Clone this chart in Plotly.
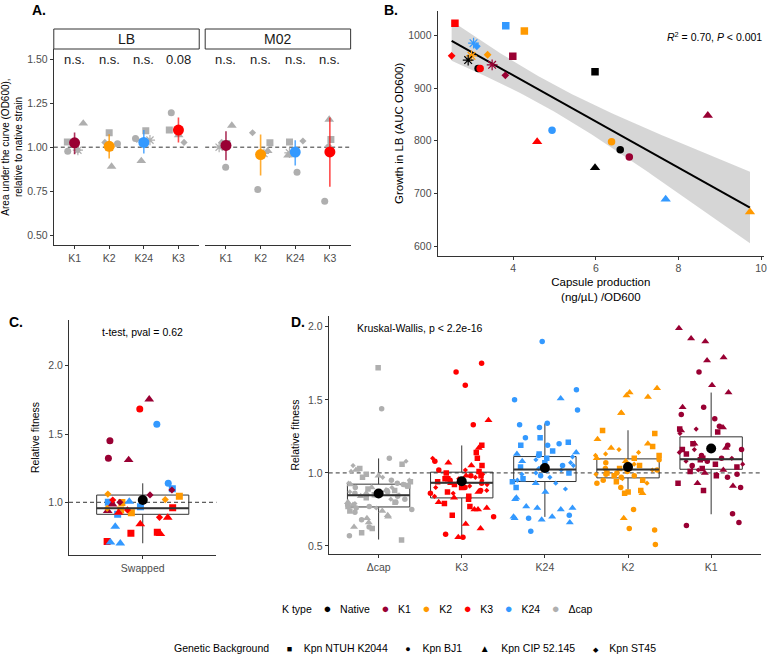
import numpy as np
import plotly.graph_objects as go

FONT = "Liberation Sans, Arial, Helvetica, sans-serif"
W, H = 772, 658

# ---------------- colours / symbols ----------------
K_COLORS = {"Native": "#000000", "K1": "#990033", "K2": "#FF9900",
            "K3": "#FF0000", "K24": "#3399FF", "Δcap": "#AFAFAF"}
K_ALPHA = {"K1": "rgba(153,0,51,0.8)", "K2": "rgba(255,153,0,0.8)",
           "K3": "rgba(255,0,0,0.7)", "K24": "rgba(51,153,255,0.8)"}
GRAY = "#AFAFAF"
BG_SYMBOL = {"NTUH": "square", "BJ1": "circle", "CIP": "triangle-up",
             "ST45": "diamond", "other": "asterisk-open"}
BG_GLYPH = {"NTUH": ("■", 9), "BJ1": ("●", 9), "CIP": ("▲", 10), "ST45": ("◆", 7)}

# ---------------- Panel A data ----------------
a_ktypes = ["K1", "K2", "K24", "K3"]
a_lb_mean = [1.025, 1.005, 1.027, 1.097]
a_lb_hi = [1.083, 1.074, 1.097, 1.169]
a_lb_lo = [0.960, 0.936, 0.964, 1.026]
a_m02_mean = [1.010, 0.958, 0.972, 0.973]
a_m02_hi = [1.091, 1.072, 1.040, 1.169]
a_m02_lo = [0.926, 0.839, 0.896, 0.775]
a_lb_labels = ["n.s.", "n.s.", "n.s.", "0.08"]
a_m02_labels = ["n.s.", "n.s.", "n.s.", "n.s."]
a_lb_ntuh = [1.030, 1.082, 1.093, 1.097]
a_lb_bj1 = [0.977, 1.020, 1.049, 1.195]
a_lb_cip = [1.135, 0.890, 0.922, 1.068]
a_lb_st45 = [0.983, 1.027, 1.044, 1.027]
a_lb_other = [0.983, 1.000, 1.040, None]
a_m02_ntuh = [1.021, 1.025, 1.030, 1.044]
a_m02_bj1 = [0.886, 0.760, 0.858, 0.693]
a_m02_cip = [1.123, 0.979, 0.953, 1.157]
a_m02_st45 = [1.027, 1.082, 1.035, 1.006]
a_m02_other = [1.000, 0.964, 0.968, None]

# ---------------- Panel B data ----------------
b_capsule = [2.59, 3.82, 4.27, 3.99, 5.98, 2.51, 3.04, 3.12, 2.99, 3.38, 2.91, 3.15,
             3.20, 3.49, 3.81, 4.94, 4.58, 6.38, 6.59, 6.81, 5.98, 8.71, 7.69, 9.73]
b_growth = [1023, 1018, 1008, 960, 931, 961, 985, 979, 961, 963, 953, 937,
            937, 944, 924, 820, 798, 798, 783, 769, 749, 848, 689, 665]
b_ktype = ["K3", "K24", "K2", "K1", "Native", "K3", "K24", "K24", "K2", "K2", "Native", "Native",
           "K3", "K1", "K1", "K24", "K3", "K2", "Native", "K1", "Native", "K1", "K24", "K2"]
b_background = ["NTUH", "NTUH", "NTUH", "NTUH", "NTUH", "ST45", "other", "ST45", "other", "ST45", "other", "BJ1",
                "BJ1", "other", "ST45", "BJ1", "CIP", "BJ1", "BJ1", "BJ1", "CIP", "CIP", "CIP", "CIP"]

# ---------------- Panel C data ----------------
c_values = [1.754, 1.683, 1.571, 1.451, 1.322, 1.310, 1.139, 1.100, 1.054, 1.090, 1.060, 1.020,
            0.998, 1.000, 1.000, 1.017, 1.005, 0.985, 0.924, 0.944, 0.924, 0.968, 0.937, 0.956,
            0.944, 0.960, 0.888, 0.890, 0.841, 0.822, 0.780, 0.773, 0.768, 0.712, 0.700, 0.707,
            0.912, 1.045]
c_ktype = ["K1", "K3", "K24", "K1", "K1", "K1", "K24", "K24", "K1", "K1", "K2", "K2",
           "K2", "K24", "K1", "K3", "K24", "K1", "K3", "K2", "K2", "K24", "K1", "K2",
           "K3", "K3", "K3", "K3", "K3", "K24", "K3", "K3", "K3", "K3", "K24", "K24",
           "K24", "K2"]
c_background = ["CIP", "BJ1", "BJ1", "BJ1", "BJ1", "CIP", "BJ1", "NTUH", "ST45", "ST45", "ST45", "ST45",
                "NTUH", "NTUH", "ST45", "ST45", "CIP", "CIP", "CIP", "NTUH", "NTUH", "NTUH", "CIP", "ST45",
                "ST45", "NTUH", "CIP", "ST45", "CIP", "CIP", "NTUH", "NTUH", "CIP", "NTUH", "CIP", "CIP",
                "NTUH", "NTUH"]
c_category = ["Swapped"]
c_q1 = [0.912]
c_median = [0.956]
c_q3 = [1.053]
c_low = [0.700]
c_high = [1.139]
c_mean = [1.017]

# ---------------- Panel D data ----------------
d_groups = ["Δcap", "K3", "K24", "K2", "K1"]
d_q1 = [0.767, 0.829, 0.941, 0.966, 1.025]
d_median = [0.847, 0.932, 1.023, 1.023, 1.094]
d_q3 = [0.923, 1.005, 1.112, 1.096, 1.247]
d_low = [0.544, 0.562, 0.699, 0.886, 0.717]
d_high = [1.099, 1.188, 1.338, 1.292, 1.550]
d_mean = [0.859, 0.943, 1.034, 1.041, 1.167]

d_dcap_ntuh = [1.72, 1.06, 1.03, 0.99, 0.97, 0.94, 0.91, 0.89, 0.85, 0.83, 0.80, 0.77, 0.74, 0.62, 0.59, 0.54, 0.88]
d_dcap_bj1 = [1.44, 1.10, 0.95, 0.93, 0.91, 0.90, 0.88, 0.86, 0.85, 0.84, 0.82, 0.80, 0.78, 0.77, 0.76,
              0.75, 0.73, 0.68, 0.63, 0.57, 0.92, 0.87]
d_dcap_cip = [1.02, 0.98, 0.92, 0.88, 0.84, 0.80, 0.78, 0.74, 0.71, 0.69, 0.70, 0.66, 0.63, 0.86, 0.90]
d_dcap_st45 = [1.08, 1.05, 1.01, 0.97, 0.95, 0.92, 0.90, 0.87, 0.85, 0.82, 0.79, 0.76, 0.93]

d_k3_ntuh = [1.19, 1.14, 1.05, 1.01, 1.00, 0.98, 0.96, 0.94, 0.92, 0.90, 0.87, 0.84, 0.82, 0.79, 0.77, 0.71, 1.10, 0.96]
d_k3_bj1 = [1.75, 1.69, 1.60, 1.33, 0.56, 0.58, 0.70, 1.08, 0.95, 0.90, 0.86, 1.02, 0.93, 0.88, 0.98]
d_k3_cip = [1.36, 1.17, 1.07, 1.05, 0.93, 0.87, 0.83, 0.80, 0.76, 0.75, 0.75, 0.65, 0.62, 0.56, 0.98]
d_k3_st45 = [1.10, 1.02, 0.99, 0.97, 0.95, 0.93, 0.92, 0.90, 0.88, 0.86, 0.84, 0.91, 0.96]

d_k24_ntuh = [1.24, 1.21, 1.19, 1.15, 1.13, 1.10, 1.07, 1.04, 1.02, 1.00, 0.96, 0.94, 0.90]
d_k24_bj1 = [1.90, 1.57, 1.50, 1.43, 1.34, 1.33, 1.31, 1.24, 1.20, 1.19, 0.60, 0.69, 0.71, 1.05, 0.98, 1.12]
d_k24_cip = [1.51, 1.14, 1.13, 1.08, 0.93, 0.87, 0.83, 0.82, 0.77, 0.76, 0.75, 0.70, 0.70, 0.69, 0.68, 0.66, 0.76]
d_k24_st45 = [1.09, 1.07, 1.05, 1.03, 1.02, 1.00, 0.99, 0.97, 0.95, 0.93, 0.89, 1.11, 1.04]

d_k2_ntuh = [1.29, 1.27, 1.18, 1.12, 1.10, 1.05, 1.03, 1.00, 0.98, 0.95, 0.94, 0.88, 0.87, 0.86]
d_k2_bj1 = [1.09, 1.07, 1.05, 1.03, 1.02, 1.01, 1.00, 0.99, 0.98, 0.97, 0.95, 0.93, 0.90, 0.75, 0.62, 0.61, 0.51]
d_k2_cip = [1.58, 1.52, 1.53, 1.55, 1.41, 1.41, 1.23, 1.20, 1.17, 1.10, 1.08, 0.86, 0.69]
d_k2_st45 = [1.16, 1.14, 1.13, 1.12, 1.06, 1.04, 1.02, 0.96, 0.93, 0.99]

d_k1_ntuh = [1.30, 1.28, 1.20, 1.16, 1.13, 1.10, 1.09, 1.06, 1.04, 1.03, 1.01, 0.98, 0.93, 0.88]
d_k1_bj1 = [1.69, 1.45, 1.40, 1.37, 1.32, 1.19, 1.16, 1.12, 1.10, 1.08, 1.05, 0.99, 0.97, 0.90, 0.72, 0.66, 0.64]
d_k1_cip = [1.99, 1.92, 1.90, 1.79, 1.77, 1.60, 1.55, 1.45, 1.31, 1.29, 1.20, 1.17, 1.02, 1.00, 0.93, 0.91]
d_k1_st45 = [1.30, 1.27, 1.16, 1.14, 1.10, 1.08, 1.06, 1.04, 1.02, 0.99]

d_sets = {
    "Δcap": [d_dcap_ntuh, d_dcap_bj1, d_dcap_cip, d_dcap_st45],
    "K3": [d_k3_ntuh, d_k3_bj1, d_k3_cip, d_k3_st45],
    "K24": [d_k24_ntuh, d_k24_bj1, d_k24_cip, d_k24_st45],
    "K2": [d_k2_ntuh, d_k2_bj1, d_k2_cip, d_k2_st45],
    "K1": [d_k1_ntuh, d_k1_bj1, d_k1_cip, d_k1_st45],
}
BG_ORDER = ["NTUH", "BJ1", "CIP", "ST45"]

legend_k = ["Native", "K1", "K2", "K3", "K24", "Δcap"]
legend_bg = ["Kpn NTUH K2044", "Kpn BJ1", "Kpn CIP 52.145", "Kpn ST45"]

# ---------------- helpers ----------------
rng = np.random.default_rng(11)


def px_x(p):
    return p / W


def px_y(p):
    return 1 - p / H


fig = go.Figure()


def size_for(sym, base):
    return {"square": base, "circle": base, "triangle-up": base + 1.5,
            "diamond": base - 1.5, "asterisk-open": base + 1.5}[sym]


# ---------------- Panel A ----------------
a_sets = [
    ("x", "y", a_lb_mean, a_lb_hi, a_lb_lo, a_lb_labels,
     [a_lb_ntuh, a_lb_bj1, a_lb_cip, a_lb_st45, a_lb_other]),
    ("x2", "y2", a_m02_mean, a_m02_hi, a_m02_lo, a_m02_labels,
     [a_m02_ntuh, a_m02_bj1, a_m02_cip, a_m02_st45, a_m02_other]),
]
for xa, ya, means, his, los, labels, bgs in a_sets:
    for bg, vals in zip(["NTUH", "BJ1", "CIP", "ST45", "other"], bgs):
        xs, ys = [], []
        for i, v in enumerate(vals):
            if v is None:
                continue
            xs.append(i + 1 + rng.uniform(-0.28, 0.28))
            ys.append(v)
        sym = BG_SYMBOL[bg]
        mk = dict(symbol=sym, size=size_for(sym, 7), color=GRAY)
        mk["line"] = dict(width=1.2, color=GRAY) if sym == "asterisk-open" else dict(width=0)
        fig.add_trace(go.Scatter(x=xs, y=ys, mode="markers", marker=mk, xaxis=xa, yaxis=ya,
                                 showlegend=False, hoverinfo="skip"))
    for i, k in enumerate(a_ktypes):
        col = K_COLORS[k]
        fig.add_trace(go.Scatter(
            x=[i + 1], y=[means[i]], mode="markers",
            marker=dict(size=11, color=col, line=dict(width=0)),
            error_y=dict(type="data", symmetric=False, array=[his[i] - means[i]],
                         arrayminus=[means[i] - los[i]], color=K_ALPHA[k], thickness=1.6, width=0),
            xaxis=xa, yaxis=ya, showlegend=False, hoverinfo="skip"))
    for i, lab in enumerate(labels):
        fig.add_annotation(x=i + 1, y=1.5, xref=xa, yref=ya, text=lab, showarrow=False,
                           font=dict(size=13, color="#1A1A1A", family=FONT), yanchor="middle")

# ---------------- Panel B ----------------
bx = np.array(b_capsule, dtype=float)
by = np.array(b_growth, dtype=float)
slope, intercept = np.polyfit(bx, by, 1)
n = len(bx)
resid = by - (slope * bx + intercept)
s = np.sqrt(np.sum(resid ** 2) / (n - 2))
sxx = np.sum((bx - bx.mean()) ** 2)
tcrit = 2.074
xl = np.linspace(bx.min(), bx.max(), 80)
yl = slope * xl + intercept
se = s * np.sqrt(1 / n + (xl - bx.mean()) ** 2 / sxx)
fig.add_trace(go.Scatter(x=np.concatenate([xl, xl[::-1]]),
                         y=np.concatenate([yl + tcrit * se, (yl - tcrit * se)[::-1]]),
                         fill="toself", fillcolor="rgba(153,153,153,0.4)", line=dict(width=0),
                         mode="lines", xaxis="x3", yaxis="y3", showlegend=False, hoverinfo="skip"))
fig.add_trace(go.Scatter(x=xl, y=yl, mode="lines", line=dict(color="black", width=2),
                         xaxis="x3", yaxis="y3", showlegend=False, hoverinfo="skip"))
for bg in ["NTUH", "BJ1", "CIP", "ST45", "other"]:
    idx = [i for i, b in enumerate(b_background) if b == bg]
    sym = BG_SYMBOL[bg]
    cols = [K_COLORS[b_ktype[i]] for i in idx]
    mk = dict(symbol=sym, size=size_for(sym, 7.5), color=cols)
    mk["line"] = dict(width=1.2, color=cols) if sym == "asterisk-open" else dict(width=0)
    fig.add_trace(go.Scatter(x=[b_capsule[i] for i in idx], y=[b_growth[i] for i in idx],
                             mode="markers", marker=mk, xaxis="x3", yaxis="y3",
                             showlegend=False, hoverinfo="skip"))
fig.add_annotation(x=1, y=0.93, xref="x3 domain", yref="y3 domain", xanchor="right",
                   text="<i>R</i><sup>2</sup> = 0.70, <i>P</i> &lt; 0.001", showarrow=False,
                   font=dict(size=10.5, color="black", family=FONT))

# ---------------- Panel C ----------------
for bg in BG_ORDER:
    idx = [i for i, b in enumerate(c_background) if b == bg]
    sym = BG_SYMBOL[bg]
    fig.add_trace(go.Scatter(
        x=[1 + rng.uniform(-0.3, 0.3) for _ in idx], y=[c_values[i] for i in idx], mode="markers",
        marker=dict(symbol=sym, size=size_for(sym, 7), color=[K_COLORS[c_ktype[i]] for i in idx],
                    line=dict(width=0)),
        xaxis="x4", yaxis="y4", showlegend=False, hoverinfo="skip"))
fig.add_trace(go.Box(x=[1], q1=c_q1, median=c_median, q3=c_q3, lowerfence=c_low, upperfence=c_high,
                     width=0.75, whiskerwidth=0, fillcolor="rgba(0,0,0,0)",
                     line=dict(color="#333333", width=1), boxpoints=False,
                     xaxis="x4", yaxis="y4", showlegend=False, hoverinfo="skip"))
fig.add_trace(go.Scatter(x=[1 - 0.375, 1 + 0.375], y=[c_median[0]] * 2, mode="lines",
                         line=dict(color="#333333", width=2), xaxis="x4", yaxis="y4",
                         showlegend=False, hoverinfo="skip"))
fig.add_trace(go.Scatter(x=[1], y=c_mean, mode="markers", marker=dict(size=10, color="black"),
                         xaxis="x4", yaxis="y4", showlegend=False, hoverinfo="skip"))
fig.add_annotation(x=1, y=2.25, xref="x4", yref="y4", text="t-test, pval = 0.62", showarrow=False,
                   font=dict(size=10.5, color="black", family=FONT))

# ---------------- Panel D ----------------
for gi, g in enumerate(d_groups):
    for bg, vals in zip(BG_ORDER, d_sets[g]):
        sym = BG_SYMBOL[bg]
        fig.add_trace(go.Scatter(
            x=[gi + 1 + rng.uniform(-0.4, 0.4) for _ in vals], y=vals, mode="markers",
            marker=dict(symbol=sym, size=size_for(sym, 5.5), color=K_COLORS[g], line=dict(width=0)),
            xaxis="x5", yaxis="y5", showlegend=False, hoverinfo="skip"))
dpos = list(range(1, len(d_groups) + 1))
fig.add_trace(go.Box(x=dpos, q1=d_q1, median=d_median, q3=d_q3, lowerfence=d_low, upperfence=d_high,
                     width=0.75, whiskerwidth=0, fillcolor="rgba(0,0,0,0)",
                     line=dict(color="#333333", width=1), boxpoints=False,
                     xaxis="x5", yaxis="y5", showlegend=False, hoverinfo="skip"))
for p, m in zip(dpos, d_median):
    fig.add_trace(go.Scatter(x=[p - 0.375, p + 0.375], y=[m, m], mode="lines",
                             line=dict(color="#333333", width=2), xaxis="x5", yaxis="y5",
                             showlegend=False, hoverinfo="skip"))
fig.add_trace(go.Scatter(x=dpos, y=d_mean, mode="markers", marker=dict(size=10, color="black"),
                         xaxis="x5", yaxis="y5", showlegend=False, hoverinfo="skip"))
fig.add_annotation(x=0.72, y=1.99, xref="x5", yref="y5", xanchor="left",
                   text="Kruskal-Wallis, p &lt; 2.2e-16", showarrow=False,
                   font=dict(size=10.5, color="black", family=FONT))

# ---------------- Axes ----------------
tickfont = dict(size=10.5, color="#4D4D4D", family=FONT)
titlefont = dict(size=10.5, color="black", family=FONT)
titlefont_b = dict(size=11.5, color="black", family=FONT)


def ax(**kw):
    base = dict(showline=True, linecolor="#333333", linewidth=1, ticks="outside", ticklen=3,
                tickcolor="#333333", tickwidth=1, tickfont=tickfont, showgrid=False, zeroline=False)
    base.update(kw)
    return base


a_top, a_bot = 49, 245
fig.update_layout(
    xaxis=ax(domain=[px_x(54), px_x(200)], range=[0.4, 4.6], tickvals=[1, 2, 3, 4], ticktext=a_ktypes,
             anchor="y"),
    yaxis=ax(domain=[px_y(a_bot), px_y(a_top)], range=[0.445, 1.557],
             tickvals=[0.5, 0.75, 1.0, 1.25, 1.5], ticktext=["0.50", "0.75", "1.00", "1.25", "1.50"],
             anchor="x",
             title=dict(text="Area under the curve (OD600),<br>relative to native strain",
                        font=dict(size=10, color="black", family=FONT), standoff=6)),
    xaxis2=ax(domain=[px_x(206), px_x(352)], range=[0.4, 4.6], tickvals=[1, 2, 3, 4], ticktext=a_ktypes,
              anchor="y2"),
    yaxis2=dict(domain=[px_y(a_bot), px_y(a_top)], matches="y", anchor="x2", showline=False,
                showticklabels=False, ticks="", showgrid=False, zeroline=False),
    xaxis3=ax(domain=[px_x(439.3), px_x(767)], range=[2.17, 10.07], tickvals=[4, 6, 8, 10], anchor="y3",
              title=dict(text="Capsule production<br>(ng/µL) /OD600", font=titlefont_b, standoff=4)),
    yaxis3=ax(domain=[px_y(255.7), px_y(11)], range=[582, 1046], tickvals=[600, 700, 800, 900, 1000],
              anchor="x3", title=dict(text="Growth in LB (AUC OD600)", font=titlefont_b, standoff=2)),
    xaxis4=ax(domain=[px_x(69.3), px_x(217.3)], range=[0.4, 1.6], tickvals=[1], ticktext=c_category,
              anchor="y4"),
    yaxis4=ax(domain=[px_y(555), px_y(320)], range=[0.614, 2.335], tickvals=[1.0, 1.5, 2.0],
              ticktext=["1.0", "1.5", "2.0"], anchor="x4",
              title=dict(text="Relative fitness", font=titlefont, standoff=6)),
    xaxis5=ax(domain=[px_x(330), px_x(764)], range=[0.4, 5.6], tickvals=dpos, ticktext=d_groups,
              anchor="y5"),
    yaxis5=ax(domain=[px_y(554), px_y(316)], range=[0.445, 2.074], tickvals=[0.5, 1.0, 1.5, 2.0],
              ticktext=["0.5", "1.0", "1.5", "2.0"], anchor="x5",
              title=dict(text="Relative fitness", font=titlefont, standoff=6)),
)

# dashed reference lines at 1
for xr, yr in [("x domain", "y"), ("x2 domain", "y2"), ("x4 domain", "y4"), ("x5 domain", "y5")]:
    fig.add_shape(type="line", xref=xr, yref=yr, x0=0, x1=1, y0=1, y1=1,
                  line=dict(color="#333333", width=1, dash="4px,3px"), layer="below")

# facet strips for panel A
for xr, lab in [("x domain", "LB"), ("x2 domain", "M02")]:
    fig.add_shape(type="rect", xref=xr, yref="paper", x0=0, x1=1, y0=px_y(49), y1=px_y(29),
                  line=dict(color="#333333", width=1), fillcolor="white")
    fig.add_annotation(xref=xr, yref="paper", x=0.5, y=px_y(39), text=lab, showarrow=False,
                       font=dict(size=14, color="#1A1A1A", family=FONT), yanchor="middle")

# panel tags
for lab, xp, yp in [("A.", 30, 10), ("B.", 383, 10), ("C.", 7, 322), ("D.", 290, 322)]:
    fig.add_annotation(xref="paper", yref="paper", x=px_x(xp), y=px_y(yp), text="<b>%s</b>" % lab,
                       showarrow=False, xanchor="left", yanchor="middle",
                       font=dict(size=14, color="black", family=FONT))

# ---------------- Legends (text keys, ggplot style) ----------------
k_parts = ["K type"]
for k in legend_k:
    k_parts.append("<span style='color:%s;font-size:13px'>●</span>%s%s" % (K_COLORS[k], "&nbsp;" * 3, k))
k_text = ("&nbsp;" * 4).join(k_parts)
bg_parts = ["Genetic Background"]
for lab, bg in zip(legend_bg, BG_ORDER):
    g, fs = BG_GLYPH[bg]
    bg_parts.append("<span style='font-size:%dpx'>%s</span>%s%s" % (fs, g, "&nbsp;" * 4, lab))
bg_text = ("&nbsp;" * 6).join(bg_parts)
fig.add_annotation(xref="paper", yref="paper", x=px_x(281), y=px_y(608), text=k_text, showarrow=False,
                   xanchor="left", yanchor="middle", font=dict(size=10.5, color="black", family=FONT))
fig.add_annotation(xref="paper", yref="paper", x=px_x(173), y=px_y(648), text=bg_text, showarrow=False,
                   xanchor="left", yanchor="middle", font=dict(size=10.5, color="black", family=FONT))

fig.update_layout(
    width=W, height=H, margin=dict(l=0, r=0, t=0, b=0), paper_bgcolor="white", plot_bgcolor="white",
    font=dict(family=FONT, color="black"), showlegend=False,
)

fig.write_html("out.html")
